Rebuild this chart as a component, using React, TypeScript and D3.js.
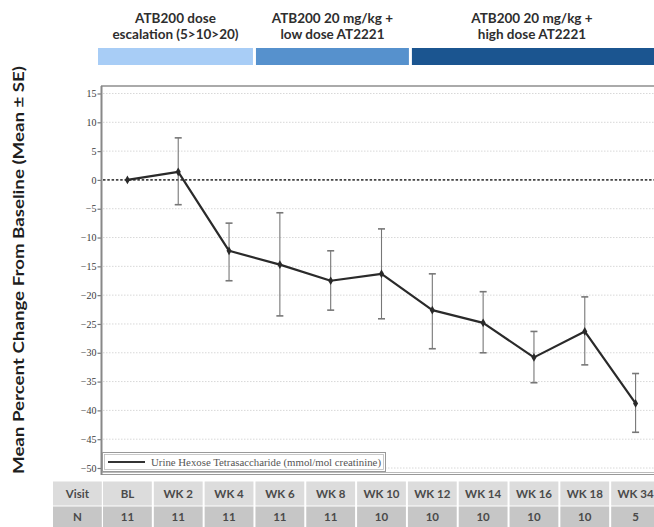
import React, { useRef, useEffect } from "react";
import * as d3 from "d3";

// visits and values
const visits = ["BL", "WK 2", "WK 4", "WK 6", "WK 8", "WK 10", "WK 12", "WK 14", "WK 16", "WK 18", "WK 34"];
const nValues = [11, 11, 11, 11, 11, 10, 10, 10, 10, 10, 5];
const meanChange = [0, 1.4, -12.3, -14.7, -17.5, -16.3, -22.6, -24.8, -30.8, -26.3, -38.8];
const seUpper = [0, 7.3, -7.5, -5.7, -12.3, -8.5, -16.3, -19.4, -26.3, -20.3, -33.6];
const seLower = [0, -4.3, -17.5, -23.6, -22.6, -24.1, -29.3, -30.0, -35.2, -32.1, -43.8];
const yTicks = d3.range(-50, 16, 5);

const phaseLabels = [
  ["ATB200 dose", "escalation (5>10>20)"],
  ["ATB200 20 mg/kg +", "low dose AT2221"],
  ["ATB200 20 mg/kg +", "high dose AT2221"],
];
const phaseFirst = ["BL", "WK 6", "WK 12"];
const phaseLast = ["WK 4", "WK 10", "WK 34"];
const phaseColors = ["#a8cdf6", "#5691cd", "#1b5590"];

const legendLabel = "Urine Hexose Tetrasaccharide (mmol/mol creatinine)";
const yTitle = "Mean Percent Change From Baseline (Mean \u00b1 SE)";

const W = 654;
const H = 527;
const sans = "Lato, 'Open Sans', sans-serif";
const serif = "'Liberation Serif', 'DejaVu Serif', serif";

const App = () => {
  const ref = useRef<SVGSVGElement>(null);

  useEffect(() => {
    if (!ref.current) return;
    const svg = d3.select(ref.current);
    svg.selectAll("*").remove();

    const plotTop = 86;
    const plotBottom = 474;
    const x = d3.scaleBand().domain(visits).range([102, 661]);
    const bw = x.bandwidth();
    const cx = (v: string) => (x(v) as number) + bw / 2;
    const y = d3.scaleLinear().domain([-50, 15]).range([468, 93.5]);

    // phase bars + labels
    phaseLabels.forEach((lines, i) => {
      const i0 = visits.indexOf(phaseFirst[i]);
      const i1 = visits.indexOf(phaseLast[i]);
      const x0 = i === 0 ? 98 : cx(visits[i0]) - bw / 2 + (i === 2 ? 5 : 1.5);
      const x1 = i === phaseLabels.length - 1 ? W : cx(visits[i1]) + bw / 2 + (i === 1 ? 2 : -1.5);
      svg.append("rect")
        .attr("x", x0).attr("y", 48).attr("width", x1 - x0).attr("height", 17)
        .attr("fill", phaseColors[i]);
      const mid = i === phaseLabels.length - 1 ? (x0 + 652) / 2 : (x0 + x1) / 2;
      lines.forEach((t, j) => {
        svg.append("text")
          .attr("x", mid).attr("y", 23 + j * 16)
          .attr("text-anchor", "middle")
          .attr("font-family", sans).attr("font-size", 13.5).attr("font-weight", 700)
          .attr("fill", "#2e2e2e")
          .text(t);
      });
    });

    // y title
    svg.append("text")
      .attr("transform", `translate(24,${270}) rotate(-90)`)
      .attr("text-anchor", "middle")
      .attr("font-family", sans).attr("font-size", 15.5).attr("font-weight", 700)
      .attr("fill", "#1e1e1e")
      .attr("textLength", 408).attr("lengthAdjust", "spacingAndGlyphs")
      .text(yTitle);

    // grid
    svg.append("g").selectAll("line")
      .data(yTicks.filter(d => d !== 0))
      .join("line")
      .attr("x1", 103).attr("x2", W)
      .attr("y1", d => y(d)).attr("y2", d => y(d))
      .attr("stroke", "#d8d8d8").attr("stroke-width", 1)
      .attr("stroke-dasharray", "1.5,1.5");

    // zero reference line
    svg.append("line")
      .attr("x1", 103).attr("x2", W)
      .attr("y1", y(0)).attr("y2", y(0))
      .attr("stroke", "#444").attr("stroke-width", 1.6)
      .attr("stroke-dasharray", "2.5,1.8");

    // frame
    svg.append("line").attr("x1", 101).attr("x2", W).attr("y1", plotTop).attr("y2", plotTop)
      .attr("stroke", "#aaa").attr("stroke-width", 2.2);
    svg.append("line").attr("x1", 101).attr("x2", W).attr("y1", plotBottom - 1.5).attr("y2", plotBottom - 1.5)
      .attr("stroke", "#bbb").attr("stroke-width", 1);
    svg.append("line").attr("x1", 101).attr("x2", W).attr("y1", plotBottom + 0.5).attr("y2", plotBottom + 0.5)
      .attr("stroke", "#999").attr("stroke-width", 1.2);

    // y axis
    const gy = svg.append("g")
      .attr("transform", "translate(101.5,0)")
      .call(d3.axisLeft(y).tickValues(yTicks).tickSize(4).tickSizeOuter(0).tickFormat(d3.format("d")));
    gy.select(".domain").remove();
    gy.selectAll(".tick line").attr("stroke", "#777").attr("stroke-width", 1.2);
    gy.selectAll(".tick text")
      .attr("font-family", serif).attr("font-size", 10).attr("fill", "#3a3a3a").attr("x", -5);
    svg.append("line").attr("x1", 101.5).attr("x2", 101.5).attr("y1", plotTop).attr("y2", plotBottom + 1)
      .attr("stroke", "#888").attr("stroke-width", 2);

    // error bars
    const eb = svg.append("g").attr("stroke", "#777").attr("stroke-width", 1.1);
    visits.forEach((v, i) => {
      if (seUpper[i] === seLower[i]) return;
      eb.append("line").attr("x1", cx(v)).attr("x2", cx(v))
        .attr("y1", y(seUpper[i])).attr("y2", y(seLower[i]));
      [seUpper[i], seLower[i]].forEach(e => {
        eb.append("line").attr("x1", cx(v) - 3.5).attr("x2", cx(v) + 3.5)
          .attr("y1", y(e)).attr("y2", y(e)).attr("stroke-width", 1.6);
      });
    });

    // mean line
    const line = d3.line<number>().x((_, i) => cx(visits[i])).y(d => y(d));
    svg.append("path")
      .attr("d", line(meanChange))
      .attr("fill", "none").attr("stroke", "#2a2a2a").attr("stroke-width", 2.2)
      .attr("stroke-linejoin", "round");
    svg.append("g").selectAll("path")
      .data(meanChange)
      .join("path")
      .attr("transform", (d, i) => `translate(${cx(visits[i])},${y(d)})`)
      .attr("d", d3.symbol(d3.symbolDiamond, 22)())
      .attr("fill", "#2a2a2a");

    // legend
    svg.append("rect").attr("x", 102.5).attr("y", 452.5).attr("width", 283).attr("height", 19)
      .attr("fill", "#fff").attr("stroke", "#999").attr("stroke-width", 1);
    svg.append("rect").attr("x", 104.5).attr("y", 454.5).attr("width", 279).attr("height", 15)
      .attr("fill", "none").attr("stroke", "#bbb").attr("stroke-width", 0.8);
    svg.append("line").attr("x1", 108).attr("x2", 145).attr("y1", 462).attr("y2", 462)
      .attr("stroke", "#333").attr("stroke-width", 1.8);
    svg.append("text").attr("x", 151).attr("y", 465.5)
      .attr("font-family", serif).attr("font-size", 10).attr("fill", "#555")
      .attr("textLength", 230).attr("lengthAdjust", "spacingAndGlyphs")
      .text(legendLabel);

    // table
    const rows = [
      { label: "Visit", values: visits, y0: 481, h: 25, fill: "#dcdcdc" },
      { label: "N", values: nValues.map(String), y0: 506, h: 22, fill: "#c6c6c6" },
    ];
    rows.forEach(r => {
      const cells = [{ x0: 52, t: r.label }].concat(
        r.values.map((t, i) => ({ x0: x(visits[i]) as number, t }))
      );
      cells.forEach(c => {
        svg.append("rect").attr("x", c.x0 + 1).attr("y", r.y0 + 0.5)
          .attr("width", bw - 2).attr("height", r.h - 1)
          .attr("fill", r.fill);
        svg.append("text").attr("x", c.x0 + bw / 2).attr("y", r.y0 + r.h / 2 + 4)
          .attr("text-anchor", "middle")
          .attr("font-family", sans).attr("font-size", 11.5).attr("font-weight", 700)
          .attr("fill", "#4a4a4a")
          .text(c.t);
      });
    });
  }, []);

  return (
    <svg ref={ref} width={W} height={H}
      style={{ position: "absolute", left: 0, top: 0, background: "#fff" }} />
  );
};

export default App;
